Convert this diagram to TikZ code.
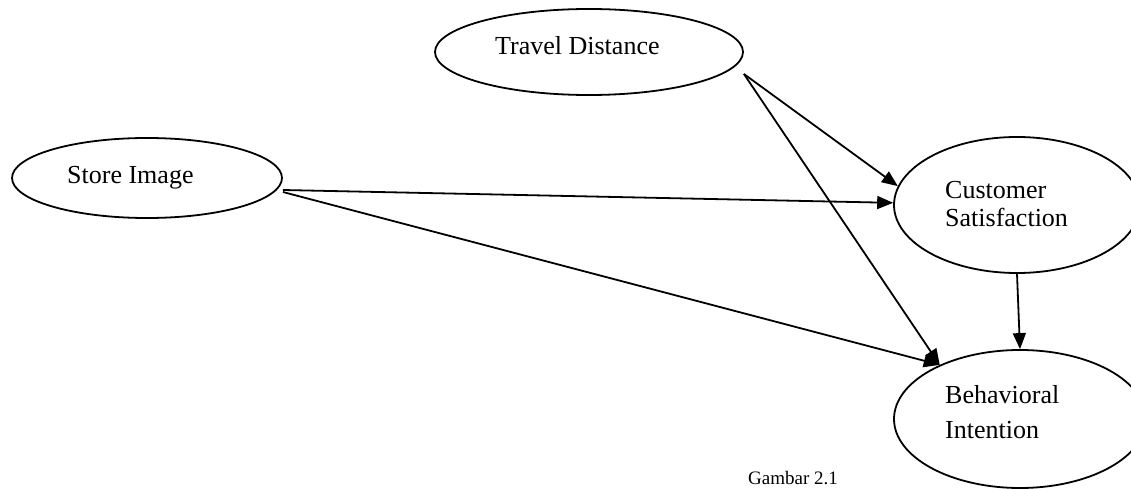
\documentclass[tikz,border=0pt]{standalone}
\usepackage{fontspec}
\setmainfont{Liberation Serif}
\usetikzlibrary{shapes.geometric,arrows.meta}
\begin{document}
\begin{tikzpicture}[x=1pt,y=-1pt,
  oval/.style={draw, ellipse, line width=1.8pt, inner sep=0pt},
  lbl/.style={anchor=base west, inner sep=0pt, font=\fontsize{26}{28}\selectfont},
  arr/.style={line width=1.8pt, -{Triangle[length=16pt,width=13pt]}}]
\useasboundingbox (0,0) rectangle (1131,489);
% ovals
\node[oval, minimum width=308pt, minimum height=86pt] (td) at (589,52) {};
\node[oval, minimum width=270pt, minimum height=80pt] (si) at (147,178) {};
\node[oval, minimum width=246pt, minimum height=136pt] (cs) at (1017,205) {};
\node[oval, minimum width=252pt, minimum height=138pt] (bi) at (1020,419) {};
% texts
\node[lbl] (tdt) at (495,55) {Travel Distance};
\node[lbl] (sit) at (67,183) {Store Image};
\node[lbl] (cst1) at (945,198) {Customer};
\node[lbl] (cst2) at (945,226) {Satisfaction};
\node[lbl] (bit1) at (945,403) {Behavioral};
\node[lbl] (bit2) at (945,438) {Intention};
\node[anchor=base, inner sep=0pt, font=\fontsize{19}{22}\selectfont] (cap) at (793,484) {Gambar 2.1};
% arrows
\draw[arr] ([yshift=-22pt]td.east) -- (cs.171);
\draw[arr] ([yshift=-22pt]td.east) -- (bi.146);
\draw[arr] ([yshift=-12pt]si.east) -- (cs.179);
\draw[arr] ([yshift=-14pt]si.east) -- (bi.146);
\draw[arr] (cs.south) -- (bi.north);
\end{tikzpicture}
\end{document}
